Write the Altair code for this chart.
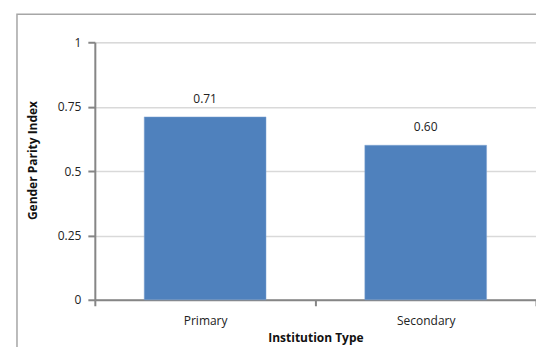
import altair as alt
import pandas as pd

categories = ["Primary", "Secondary"]
values = [0.71, 0.60]
labels = ["0.71", "0.60"]
y_ticks = [0, 0.25, 0.5, 0.75, 1]

df = pd.DataFrame({"type": categories, "gpi": values, "label": labels})

FONT = "Open Sans"
GRAY = "#868686"

x_enc = alt.X(
    "type:N",
    sort=categories,
    scale=alt.Scale(paddingInner=0, paddingOuter=0),
    axis=alt.Axis(
        title="Institution Type",
        labelAngle=0,
        tickBand="extent",
        domainColor=GRAY,
        domainWidth=2,
        tickColor=GRAY,
        tickWidth=2,
        tickSize=6,
        labelPadding=10,
        labelFontSize=12,
        labelColor="#222222",
        titleFontSize=12,
        titleFontWeight="bold",
        titlePadding=6,
        titleColor="#111111",
    ),
)

y_enc = alt.Y(
    "gpi:Q",
    scale=alt.Scale(domain=[0, 1], nice=False),
    axis=alt.Axis(
        title="Gender Parity Index",
        values=y_ticks,
        labelExpr="datum.value == 0 ? '0' : format(datum.value, '.4~g')",
        domainColor=GRAY,
        domainWidth=2,
        tickColor=GRAY,
        tickWidth=2,
        tickSize=7,
        labelPadding=7,
        labelFontSize=12,
        labelColor="#222222",
        gridColor="#D9D9D9",
        gridWidth=1.5,
        titleFontSize=12,
        titleFontWeight="bold",
        titleColor="#111111",
        titleX=-62,
        titleY=118,
        titleAngle=270,
        titleAlign="center",
        titleBaseline="middle",
    ),
)

border = alt.Chart(pd.DataFrame({"a": [0]})).mark_rect(
    fill=None, stroke="#A6A6A6", strokeWidth=1.5
).encode(
    x=alt.value(-78), y=alt.value(-28), x2=alt.value(700), y2=alt.value(500)
)

bars = alt.Chart(df).mark_bar(
    color="#4F81BD", stroke="#7FA4D3", strokeWidth=0.5,
    width=alt.RelativeBandSize(0.552),
).encode(x=x_enc, y=y_enc)

text = alt.Chart(df).mark_text(
    dy=-11, font=FONT, fontSize=12, color="#222222", baseline="bottom"
).encode(x=alt.X("type:N", sort=categories), y="gpi:Q", text="label:N")

chart = alt.layer(border, bars, text).properties(
    width=442,
    height=258,
    autosize=alt.AutoSizeParams(type="none"),
    padding={"left": 87, "top": 34, "right": 0, "bottom": 48},
).configure_view(stroke=None).configure(font=FONT)

chart.save("out.html", embed_options={"renderer": "svg", "actions": False})
